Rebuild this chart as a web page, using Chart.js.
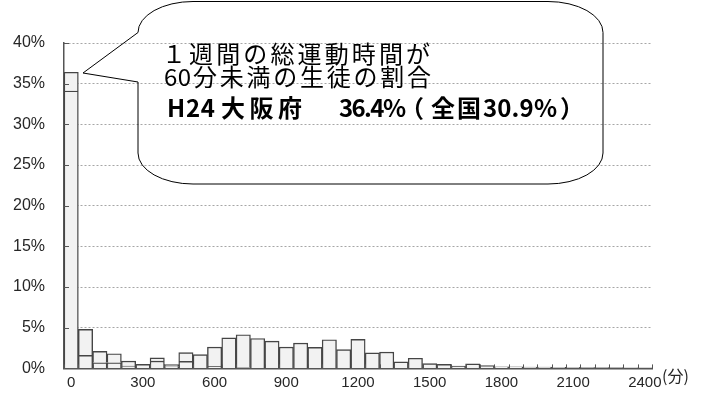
<!DOCTYPE html>
<html><head><meta charset="utf-8">
<script src="https://cdn.jsdelivr.net/npm/chart.js@4"></script>
<style>html,body{margin:0;padding:0;background:#fff}#wrap{width:705px;height:397px}</style>
</head><body><div id="wrap"><canvas id="c" width="705" height="397"></canvas></div>
<script>
// Categories: weekly total exercise time (minutes), 60-minute bins
const categories = ['0','60','120','180','240','300','360','420','480','540','600','660','720','780','840','900','960','1020','1080','1140','1200','1260','1320','1380','1440','1500','1560','1620','1680','1740','1800','1860','1920','1980','2040','2100','2160','2220','2280','2340','2400'];
// Shown x tick labels
const xTickLabels = ['0','300','600','900','1200','1500','1800','2100','2400'];
// Lower stacked segment (%)
const lowerSeg = [34.1,1.6,0.7,0.7,0.3,null,0.9,0.2,0.87,null,0.26,null,0.1,null,null,null,null,null,null,null,null,null,null,null,null,null,null,null,null,null,null,null,null,null,null,null,null,null,null,null,null];
// Upper stacked segment (%)
const upperSeg = [2.3,3.2,1.4,1.1,0.6,0.5,0.4,0.26,1.06,1.69,2.36,3.76,4.03,3.68,3.35,2.62,3.11,2.58,3.52,2.3,3.56,1.9,2.0,0.8,1.25,0.58,0.5,0.29,0.55,0.35,0.2,0.18,0.15,0.15,0.12,0.12,0.1,0.1,0.1,0.08,0.08];
// Y tick values
const yTicks = [0,5,10,15,20,25,30,35,40];

const AXIS = '#555555';
const JP = '"Noto Sans CJK JP", "Noto Sans CJK SC", sans-serif';

function drawSpaced(ctx, text, x, y, width){
  const chars=[...text];
  const ws=chars.map(c=>ctx.measureText(c).width);
  const total=ws.reduce((a,b)=>a+b,0);
  const gap = chars.length>1 ? (width-total)/(chars.length-1) : 0;
  let cx=x;
  chars.forEach((c,i)=>{ctx.fillText(c,cx,y); cx+=ws[i]+gap;});
}
function drawInk(ctx, text, inkLeft, y){
  const m=ctx.measureText(text);
  ctx.fillText(text, inkLeft + m.actualBoundingBoxLeft, y);
}

const innerTicks = {
  id:'innerTicks',
  afterDatasetsDraw(chart){
    const {ctx, chartArea:a, scales:{x,y}} = chart;
    ctx.save();
    ctx.strokeStyle=AXIS; ctx.lineWidth=1;
    ctx.beginPath();
    yTicks.forEach(v=>{const py=Math.round(y.getPixelForValue(v))+0.5; ctx.moveTo(a.left,py); ctx.lineTo(a.left+5,py);});
    const n=categories.length, w=(a.right-a.left)/n;
    for(let i=0;i<=n;i++){const px=Math.round(a.left+i*w)+0.5; ctx.moveTo(px,a.bottom); ctx.lineTo(px,a.bottom-4);}
    ctx.stroke();
    ctx.restore();
  }
};

const callout = {
  id:'callout',
  afterDraw(chart){
    const ctx=chart.ctx;
    ctx.save();
    const L=138,R=603,T=1.5,B=184,rx=55,ry=31;
    const tip={x:83,y:73}, j2=82;
    ctx.strokeStyle='#000'; ctx.lineWidth=1;
    ctx.beginPath();
    ctx.moveTo(L+rx,T);
    ctx.lineTo(R-rx,T);
    ctx.ellipse(R-rx,T+ry,rx,ry,0,-Math.PI/2,0);
    ctx.lineTo(R,B-ry);
    ctx.ellipse(R-rx,B-ry,rx,ry,0,0,Math.PI/2);
    ctx.lineTo(L+rx,B);
    ctx.ellipse(L+rx,B-ry,rx,ry,0,Math.PI/2,Math.PI);
    ctx.lineTo(L,j2);
    ctx.lineTo(tip.x,tip.y);
    ctx.lineTo(L,T+ry);
    ctx.ellipse(L+rx,T+ry,rx,ry,0,Math.PI,Math.PI*1.5);
    ctx.closePath();
    ctx.stroke();

    ctx.fillStyle='#000';
    ctx.textBaseline='middle'; ctx.textAlign='left';
    ctx.font='24px '+JP;
    drawSpaced(ctx,'１週間の総運動時間が',162,54,268);
    drawSpaced(ctx,'60',164,77,27);
    drawSpaced(ctx,'分未満の生徒の割合',193,77,238);
    ctx.font='bold 24px '+JP;
    drawSpaced(ctx,'H24',167,108,48);
    drawSpaced(ctx,'大阪府',221,108,81);
    drawSpaced(ctx,'36.4%',339,108,67);
    drawInk(ctx,'（',415,108);
    drawSpaced(ctx,'全国',431,108,50);
    drawSpaced(ctx,'30.9%',483,108,74);
    drawInk(ctx,'）',561,108);

    ctx.font='16px '+JP;
    ctx.fillStyle='#262626';
    ctx.fillText('(分)',662,376);
    ctx.restore();
  }
};

const barStyle = {backgroundColor:'#f2f2f2', borderColor:'#454545', borderWidth:1.4, categoryPercentage:1.0, barPercentage:1.0, borderSkipped:'start'};

new Chart(document.getElementById('c').getContext('2d'), {
  type:'bar',
  data:{labels:categories, datasets:[
    Object.assign({label:'lower', data:lowerSeg}, barStyle),
    Object.assign({label:'upper', data:upperSeg}, barStyle)
  ]},
  options:{
    responsive:false, animation:false,
    layout:{padding:{left:0,right:53,top:43,bottom:0}},
    plugins:{legend:{display:false}, tooltip:{enabled:false}},
    scales:{
      x:{stacked:true, offset:true,
        grid:{display:false, drawTicks:false},
        border:{color:AXIS, width:1.5},
        ticks:{autoSkip:false, maxRotation:0, minRotation:0, padding:5, color:'#262626',
          font:{family:'"Liberation Sans", Arial, sans-serif', size:15},
          callback(v,i){const l=categories[i]; return xTickLabels.includes(l)?l:'';}},
        afterFit(s){s.height=25.5;}
      },
      y:{stacked:true, min:0, max:40,
        ticks:{stepSize:5, padding:19, color:'#262626',
          font:{family:'"Liberation Sans", Arial, sans-serif', size:16},
          callback:v=>v+'%'},
        grid:{color:'#a6a6a6', drawTicks:false, lineWidth:1},
        border:{color:AXIS, width:1.5, dash:[2,2]},
        afterFit(s){s.width=64;}
      }
    }
  },
  plugins:[innerTicks, callout]
});
</script>
</body></html>
